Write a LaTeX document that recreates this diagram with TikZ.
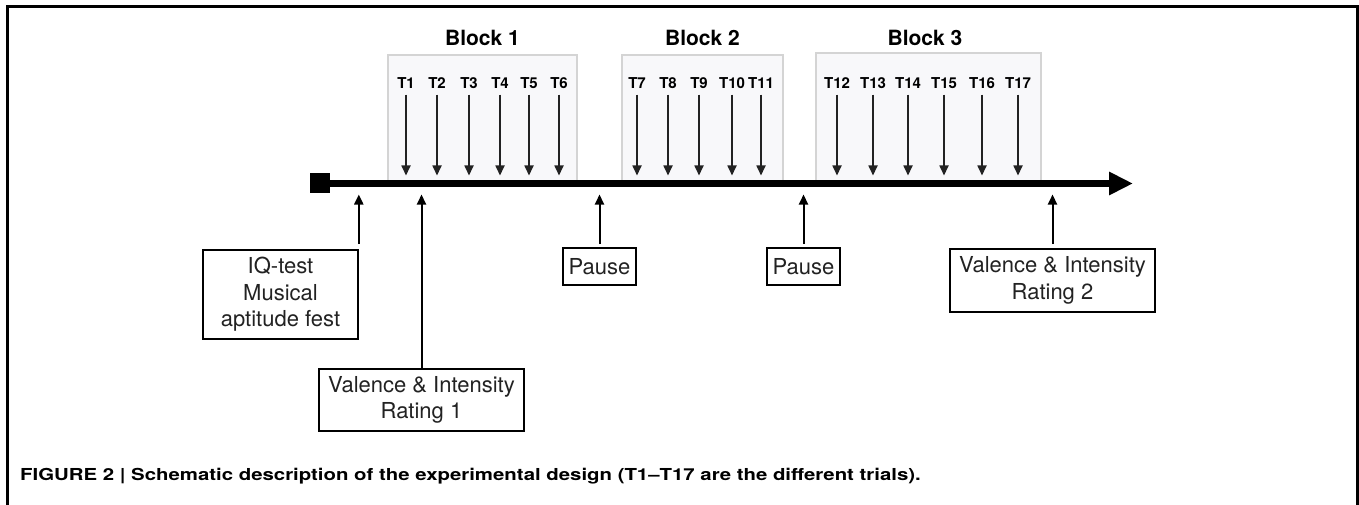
\documentclass[tikz,border=0pt]{standalone}
\usepackage{fontspec}
\setmainfont{TeX Gyre Heros}
\usetikzlibrary{arrows.meta,positioning}
\definecolor{blockfill}{RGB}{248,248,250}
\definecolor{blockline}{RGB}{212,212,212}
\definecolor{ink}{RGB}{34,34,34}

\begin{document}
\begin{tikzpicture}[x=1pt,y=-1pt,>={Triangle[length=10pt,width=9pt]},
    blk/.style={draw=blockline, fill=blockfill, line width=1.2pt, inner sep=0pt},
    blktitle/.style={font=\fontsize{21}{24}\selectfont\bfseries},
    trial/.style={font=\fontsize{15}{17}\selectfont\bfseries, inner sep=0pt},
    lbl/.style={draw, line width=1.6pt, inner sep=0pt, align=center, text=ink, font=\fontsize{22}{26.5}\selectfont},
    tarrow/.style={->, draw=ink, line width=1.7pt, shorten <=6pt, shorten >=8pt},
    uarrow/.style={->, line width=2pt, shorten >=11pt}]
        \useasboundingbox (0,0) rectangle (1359,505);
        \draw[line width=2.5pt] (7.5,505) -- (7.5,6.5) -- (1357.5,6.5) -- (1357.5,505);
        \node[blk, minimum width=189pt, minimum height=129pt] (B1) at (482.5,119.5) {};
        \node[blk, minimum width=161pt, minimum height=129pt] (B2) at (702.5,119.5) {};
        \node[blk, minimum width=225pt, minimum height=131pt] (B3) at (928.5,118.5) {};
        \node[blktitle] (title1) at (482.5,38) {Block 1};
        \node[blktitle] (title2) at (702.5,38) {Block 2};
        \node[blktitle] (title3) at (925,38) {Block 3};
        \node[fill, minimum size=20pt, inner sep=0pt] (start) at (320,183.5) {};
        \coordinate (tend) at (1133,183.5);
        \draw[line width=6.5pt, -{Triangle[length=24pt,width=22pt]}] (start.center) -- (tend);
        \foreach \n/\x in {1/406,2/437,3/469,4/500,5/529,6/559,7/637,8/668,9/699,10/732,11/761,
                           12/837,13/873,14/908,15/944,16/982,17/1018}{
            \node[trial] (T\n) at (\x,83) {T\n};
            \draw[tarrow] (T\n.south) -- (T\n.south |- start);
        }
        \node[lbl, minimum width=155pt, minimum height=89pt] (iq) at (280.5,294.5) {IQ-test\\Musical\\aptitude fest};
        \node[lbl, minimum width=205pt, minimum height=62pt] (r1) at (421.5,400) {Valence \& Intensity\\Rating 1};
        \node[lbl, minimum width=73pt, minimum height=37pt] (p1) at (599.5,266.5) {Pause};
        \node[lbl, minimum width=73pt, minimum height=37pt] (p2) at (803.5,266.5) {Pause};
        \node[lbl, minimum width=205pt, minimum height=63pt] (r2) at (1052.5,280.5) {Valence \& Intensity\\Rating 2};
        \draw[uarrow, shorten <=5pt] (iq.north east) -- (iq.north east |- start);
        \draw[uarrow] (r1.north) -- (r1.north |- start);
        \draw[uarrow, shorten <=3pt] (p1.north) -- (p1.north |- start);
        \draw[uarrow, shorten <=3pt] (p2.north) -- (p2.north |- start);
        \draw[uarrow, shorten <=4pt] (r2.north) -- (r2.north |- start);
        \node[anchor=base west, inner sep=0pt, font=\fontsize{16.5}{18}\selectfont\bfseries] (caption) at (20,480)
            {\scalebox{1.235}[1]{FIGURE 2 | Schematic description of the experimental design (T1–T17 are the different trials).}};
    \end{tikzpicture}
\end{document}
